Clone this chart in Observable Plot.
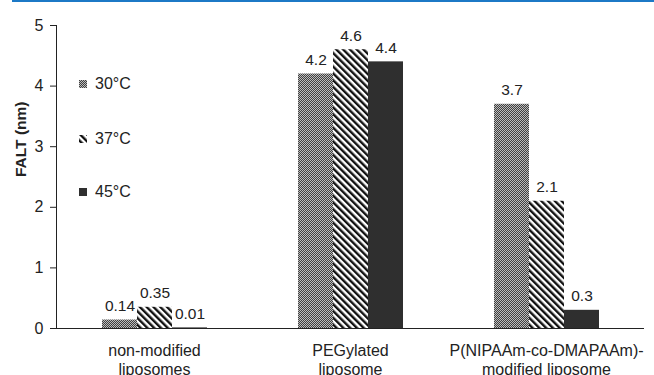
<!DOCTYPE html>
<html><head><meta charset="utf-8">
<script src="https://cdn.jsdelivr.net/npm/d3@7"></script>
<script src="https://cdn.jsdelivr.net/npm/@observablehq/plot@0.6"></script>
<style>
body{margin:0;background:#fff;font-family:"Liberation Sans",Arial,sans-serif;}
#wrap{position:relative;width:654px;height:375px;overflow:hidden;}
#chart{position:absolute;left:0;top:0;}
#topline{position:absolute;left:12px;top:0;width:642px;height:2px;background:#1c79c6;}
#legend{position:absolute;left:79px;top:0;font-size:16px;color:#222;}
.row{position:absolute;left:0;height:18px;display:flex;align-items:center;white-space:nowrap;}
.row svg{margin-right:8px;}
</style></head>
<body>
<svg width="0" height="0" style="position:absolute"><defs>
<pattern id="p30" patternUnits="userSpaceOnUse" width="2" height="2"><rect width="2" height="2" fill="#bcbcbc"/><rect width="1" height="1" fill="#404040"/><rect x="1" y="1" width="1" height="1" fill="#404040"/></pattern>
<pattern id="p37" patternUnits="userSpaceOnUse" width="4.8" height="4.8" patternTransform="rotate(-45)"><rect width="4.8" height="4.8" fill="#fff"/><rect width="2.4" height="4.8" fill="#111"/></pattern>
</defs></svg>
<div id="wrap"><div id="chart"></div><div id="topline"></div><div id="legend"></div></div>
<script>
const groups = ["non-modified\nliposomes", "PEGylated\nliposome", "P(NIPAAm-co-DMAPAAm)-\nmodified liposome"];
const temps = ["30°C", "37°C", "45°C"];
const t30 = [0.14, 4.2, 3.7];
const t37 = [0.35, 4.6, 2.1];
const t45 = [0.01, 4.4, 0.3];
const yTicks = [0, 1, 2, 3, 4, 5];
const yLabel = "FALT (nm)";
const fills = ["url(#p30)", "url(#p37)", "#2f2f2f"];

const series = [t30, t37, t45];
const data = groups.flatMap((g, i) => temps.map((t, j) => ({group: g, temp: t, value: series[j][i]})));

const font = '"Liberation Sans", Arial, sans-serif';
const chart = Plot.plot({
  width: 654, height: 375,
  marginLeft: 55, marginRight: 9, marginTop: 25, marginBottom: 47,
  style: {fontFamily: font, fontSize: "15px", color: "#222", background: "transparent"},
  fx: {domain: groups, padding: 0, label: null},
  x: {domain: temps, paddingInner: 0, paddingOuter: 1.255, axis: null},
  y: {domain: [0, 5], label: null},
  color: {type: "ordinal", domain: temps, range: fills},
  marks: [
    Plot.barY(data, {fx: "group", x: "temp", y: "value", fill: "temp"}),
    Plot.ruleY([0], {stroke: "#222"}),
    Plot.text(data, {fx: "group", x: "temp", y: "value", text: d => String(d.value), lineAnchor: "bottom", dy: -9, fontSize: 15.5, fill: "#222"}),
    Plot.axisY({ticks: yTicks, tickFormat: d => String(d), tickSize: 6, tickPadding: 7, fontSize: 16, label: null, stroke: "#222"}),
    Plot.frame({anchor: "left", facetAnchor: "left", stroke: "#222"}),
    Plot.axisFx({anchor: "bottom", tickSize: 0, tickPadding: 14, fontSize: 16, lineHeight: 1.18, label: null}),
    Plot.text([yLabel], {fx: () => groups[0], frameAnchor: "left", dx: -35, rotate: -90, fontWeight: "bold", fontSize: 15.5, fill: "#222"})
  ]
});
document.getElementById("chart").appendChild(chart);

const legendCenters = [84, 139, 192];
const legend = document.getElementById("legend");
temps.forEach((t, j) => {
  const row = document.createElement("div");
  row.className = "row";
  row.style.top = (legendCenters[j] - 9) + "px";
  row.innerHTML = `<svg width="8" height="8"><rect width="8" height="8" fill="${fills[j]}"/></svg><span>${t}</span>`;
  legend.appendChild(row);
});
</script>
</body></html>
